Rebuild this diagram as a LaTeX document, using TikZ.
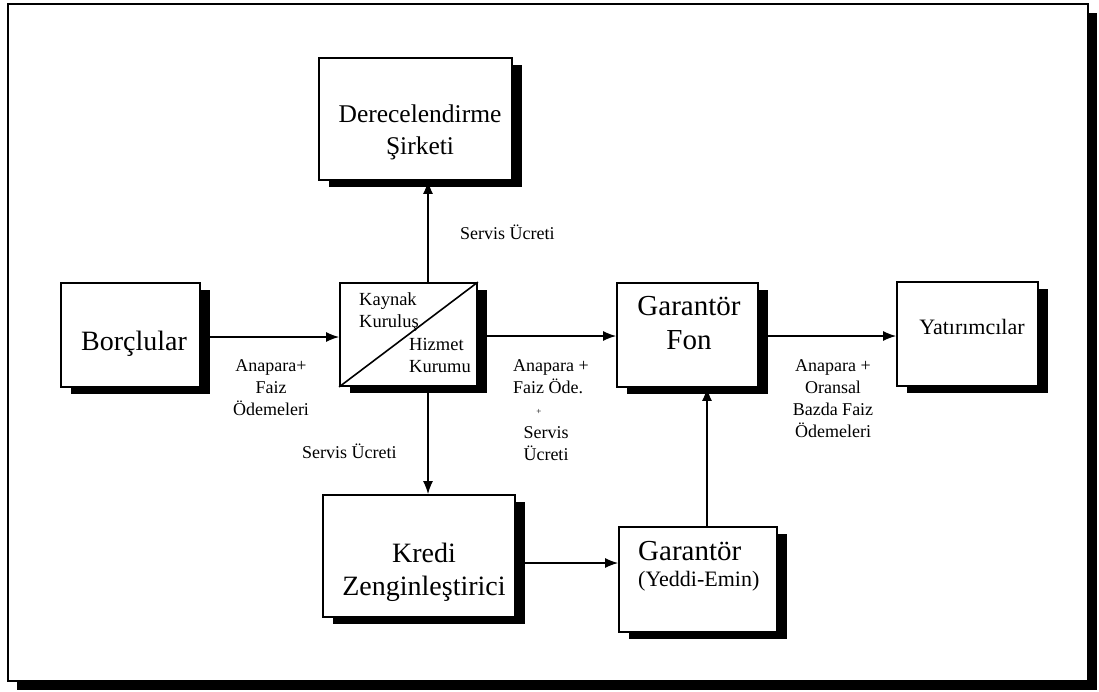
\documentclass[tikz,border=0pt]{standalone}
\usepackage{fontspec}
\setmainfont{Liberation Serif}
\usetikzlibrary{arrows.meta,shadows}
\begin{document}
\begin{tikzpicture}[x=1pt,y=-1pt,
  box/.style={draw=black, line width=1.8pt, fill=white, rectangle, inner sep=0pt,
    drop shadow={shadow xshift=10pt, shadow yshift=-7pt, fill=black, opacity=1}},
  flow/.style={line width=1.3pt, -{Latex[length=13pt,width=10pt]}},
  bigtxt/.style={font=\fontsize{28}{33}\selectfont, align=center, inner sep=0pt, anchor=base},
  midtxt/.style={font=\fontsize{18.5}{22}\selectfont, align=left, inner sep=0pt, anchor=base west},
  lbl/.style={font=\fontsize{18}{22}\selectfont, align=center, inner sep=0pt, anchor=base}
]
\useasboundingbox (0,0) rectangle (1099,691);

% outer frame with its shadow
\fill[black] (17,13) rectangle (1097,690);
\filldraw[fill=white, draw=black, line width=1.5pt] (8,4) rectangle (1088,681);

% boxes
\node[box, minimum width=193pt, minimum height=122pt] (derec) at (415.5,119) {};
\node[box, minimum width=139pt, minimum height=104pt] (borc) at (130.5,335) {};
\node[box, minimum width=137pt, minimum height=103pt] (kaynak) at (408.5,334.5) {};
\node[box, minimum width=141pt, minimum height=104pt] (fon) at (687.5,335) {};
\node[box, minimum width=141pt, minimum height=104pt] (yat) at (967.5,334) {};
\node[box, minimum width=192pt, minimum height=122pt] (kredi) at (419,556) {};
\node[box, minimum width=158pt, minimum height=105pt] (yeddi) at (698,579.5) {};

% diagonal split of the source box
\draw[line width=1.6pt] (kaynak.south west) -- (kaynak.north east);

% box texts (multi-line nodes sit on the baseline of their last line)
\node[bigtxt, font=\fontsize{25.5}{32}\selectfont] (derecT) at (420,154) {Derecelendirme\\Şirketi};
\node[bigtxt] (borcT) at (134,350) {Borçlular};
\node[bigtxt, font=\fontsize{29}{34}\selectfont] (fonT) at (689,349) {Garantör\\Fon};
\node[bigtxt, font=\fontsize{22}{26}\selectfont] (yatT) at (972,334) {Yatırımcılar};
\node[bigtxt] (krediT) at (424,595) {Kredi\\Zenginleştirici};
\node[bigtxt, font=\fontsize{29}{34}\selectfont, anchor=base west] (yeddiT) at (638,560) {Garantör};
\node[bigtxt, font=\fontsize{22}{26}\selectfont, anchor=base west] (yeddiS) at (638,586) {(Yeddi-Emin)};
\node[midtxt] (kayT) at (359,327) {Kaynak\\Kuruluş};
\node[midtxt] (hizT) at (409,372) {Hizmet\\Kurumu};

% connectors
\coordinate (vx) at (428,0);
\coordinate (vy) at (707,0);
\draw[flow] (borc.east |- 0,337) -- (kaynak.west |- 0,337);
\draw[flow] (kaynak.north -| vx) -- (derec.south -| vx);
\draw[flow] (kaynak.south -| vx) -- (kredi.north -| vx);
\draw[flow] (kaynak.east |- 0,336) -- (fon.west |- 0,336);
\draw[flow] (fon.east |- 0,336) -- (yat.west |- 0,336);
\draw[flow] (kredi.east |- 0,563) -- (yeddi.west |- 0,563);
\draw[flow] (yeddi.north -| vy) -- (fon.south -| vy);

% connector labels
\node[lbl, anchor=base west] (l1) at (460,239) {Servis Ücreti};
\node[lbl] (l2) at (271,415) {Anapara+\\Faiz\\Ödemeleri};
\node[lbl, anchor=base west, align=left] (l3) at (513,393) {Anapara +\\Faiz Öde.};
\node[font=\fontsize{9}{9}\selectfont, inner sep=0pt] (l3p) at (539,412) {+};
\node[lbl] (l3s) at (546,460) {Servis\\Ücreti};
\node[lbl] (l4) at (833,437) {Anapara +\\Oransal\\Bazda Faiz\\Ödemeleri};
\node[lbl, anchor=base west] (l5) at (302,458) {Servis Ücreti};
\end{tikzpicture}
\end{document}
